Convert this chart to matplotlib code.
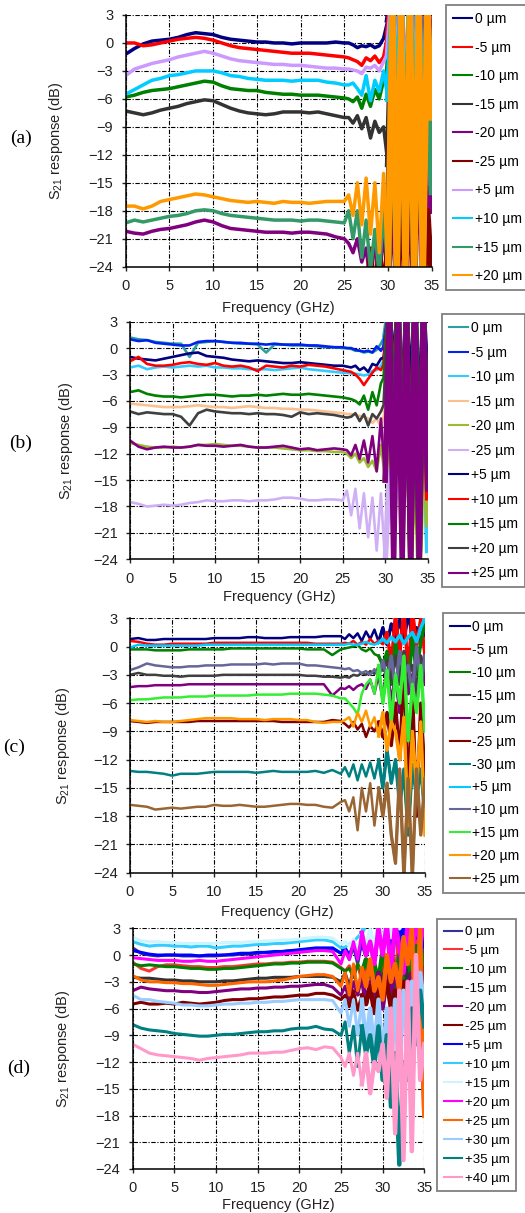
# %%
import matplotlib
matplotlib.use("Agg")
import matplotlib.pyplot as plt
import numpy as np

plt.rcParams["font.family"] = ["Liberation Sans", "DejaVu Sans"]
plt.rcParams["mathtext.default"] = "regular"

# frequency grid of the read-off samples (GHz): 1 GHz steps, then 0.5 GHz in the noisy tail
freq = np.concatenate([np.arange(0, 26, 1.0), np.arange(25.5, 35.01, 0.5)])

# %% panel (a) data, S21 in dB
a_0 = [-1.2, -0.6, -0.1, 0.2, 0.3, 0.4, 0.6, 0.9, 1.1, 1.0, 0.9, 0.6, 0.4, 0.3, 0.2, 0.1, 0.1, 0.0, 0.0, -0.1, 0.0, 0.0, 0.0, 0.0, 0.1, 0.0,
       0.0, -0.2, -0.5, -0.3, -0.4, -0.2, -0.5, -0.3, 0.5, 2.5, 6, -12, 6, -20, 5, -8, 6, -15, 5, -5]
a_m5 = [0.0, 0.0, -0.3, -0.2, 0.0, 0.2, 0.4, 0.5, 0.6, 0.5, 0.3, 0.0, -0.3, -0.5, -0.6, -0.7, -0.8, -0.9, -1.0, -1.1, -1.1, -1.1, -1.2, -1.3, -1.4, -1.5,
        -1.6, -1.8, -2.0, -2.4, -1.6, -1.9, -1.4, -2.1, -1.5, 1.0, 6, -10, 5, -18, 6, -22, 5, -12, 6, -8]
a_m10 = [-5.8, -5.6, -5.3, -5.1, -5.0, -4.9, -4.7, -4.5, -4.3, -4.1, -4.2, -4.6, -4.9, -5.0, -5.1, -5.1, -5.3, -5.4, -5.5, -5.5, -5.6, -5.6, -5.6, -5.7, -5.8, -5.9,
         -6.0, -6.3, -5.8, -7.0, -5.5, -6.8, -5.0, -6.0, -4.0, -3.0, 5, -14, 6, -24, 5, -20, 6, -16, 4, -10]
a_m15 = [-7.3, -7.5, -7.7, -7.5, -7.2, -7.0, -6.8, -6.5, -6.3, -6.1, -6.2, -6.6, -7.0, -7.3, -7.5, -7.6, -7.7, -7.6, -7.4, -7.4, -7.4, -7.5, -7.4, -7.6, -7.8, -8.0,
         -8.0, -8.6, -7.8, -9.2, -8.0, -10.2, -8.4, -9.6, -9.0, -13.0, 5, -25, 6, -18, 5, -26, 6, -20, 5, -12]
a_m20 = [-20.2, -20.4, -20.5, -20.2, -20.0, -19.9, -19.7, -19.5, -19.2, -19.0, -19.2, -19.6, -19.9, -20.0, -20.1, -20.2, -20.3, -20.3, -20.3, -20.4, -20.3, -20.3, -20.4, -20.5, -20.8, -21.0,
         -21.5, -22.5, -21.0, -23.5, -22.0, -26, -21, -26, -20, -26, -14, -26, -12, -24, -13, -26, -10, -23, -12, -18]
a_m25 = [-26] * 26 + [-26, -26, -26, -26, -26, -22, -26, -21, -26, -20, 4, -26, -16, -26, -14, -26, 5, -26, -18, -26]
a_p5 = [-3.5, -2.8, -2.5, -2.2, -2.0, -1.8, -1.5, -1.3, -1.1, -0.9, -1.1, -1.4, -1.7, -1.9, -2.0, -2.1, -2.2, -2.3, -2.3, -2.4, -2.4, -2.5, -2.6, -2.7, -2.7, -2.8,
        -2.8, -2.9, -3.0, -3.3, -2.6, -2.7, -2.4, -3.0, -2.0, -1.0, 5, -8, 6, -14, 5, -10, 6, -22, 5, -15]
a_p10 = [-5.5, -5.0, -4.5, -4.0, -3.8, -3.5, -3.4, -3.2, -3.0, -3.0, -3.0, -3.2, -3.5, -3.6, -3.8, -3.9, -4.0, -4.0, -4.0, -4.1, -4.0, -4.0, -4.0, -4.2, -4.3, -4.5,
         -4.5, -4.3, -4.9, -5.6, -3.5, -6.2, -4.0, -5.2, -3.0, -6.0, 4, -10, 5, -16, 4, -12, 5, -20, 3, -14]
a_p15 = [-19.3, -19.0, -19.2, -19.0, -18.8, -18.6, -18.5, -18.3, -18.0, -17.9, -18.0, -18.3, -18.5, -18.6, -18.7, -18.8, -18.9, -19.0, -19.0, -19.0, -19.1, -19.0, -19.0, -19.1, -19.2, -19.3,
         -18.0, -21.0, -18.0, -23.0, -19.0, -24.5, -20.0, -25.0, -18.0, -25, 3, -25, 4, -22, 3, -25, 2, -20, 3, -16]
a_p20 = [-17.5, -17.5, -17.8, -17.5, -17.0, -16.8, -16.6, -16.4, -16.2, -16.3, -16.5, -16.7, -16.9, -17.0, -17.1, -17.0, -17.1, -17.2, -17.0, -17.1, -17.1, -17.2, -17.1, -17.0, -17.0, -17.0,
         -16.3, -18.5, -15.0, -19.5, -14.5, -20.5, -15.0, -22.5, -14.0, -25.0, 4, -25, 4, -25, 4, -25, 4, -25, 4, -8]
curves_a = [a_0, a_m5, a_m10, a_m15, a_m20, a_m25, a_p5, a_p10, a_p15, a_p20]
labels_a = ["0 µm", "-5 µm", "-10 µm", "-15 µm", "-20 µm", "-25 µm", "+5 µm", "+10 µm", "+15 µm", "+20 µm"]
colors_a = ["#000080", "#FF0000", "#008000", "#333333", "#800080", "#800000", "#CC99FF", "#00CCFF", "#339966", "#FF9900"]

# %% panel (b) data
b_0 = [1.2, 1.0, 0.9, 0.7, 0.6, 0.5, 0.5, -1.0, 0.6, 0.7, 0.8, 0.7, 0.6, 0.5, 0.5, 0.4, -0.5, 0.4, 0.4, 0.3, 0.3, 0.3, 0.2, 0.1, 0.1, 0.0,
       0.0, -0.1, -0.3, -0.3, -0.5, -0.4, -0.5, -0.2, 0.5, 1.5, 5, -10, 5, -16, 4, -20, 5, -18, 4, -22]
b_m5 = [1.0, 0.8, 0.9, 0.6, 0.5, 0.4, 0.3, 0.3, 0.7, 0.8, 0.8, 0.7, 0.6, 0.6, 0.5, 0.5, 0.4, 0.5, 0.4, 0.4, 0.4, 0.3, 0.3, 0.2, 0.1, 0.1,
        0.0, 0.0, -0.2, -0.3, -0.4, -0.3, -0.5, 0.2, -0.3, 0.5, 4, -6, 5, -12, 4, -18, 5, -14, 4, -10]
b_m10 = [-2.2, -2.0, -2.4, -2.2, -2.1, -2.2, -2.1, -2.0, -2.1, -2.0, -2.2, -2.2, -2.3, -2.3, -2.4, -2.4, -2.4, -2.5, -2.4, -2.3, -2.2, -2.4, -2.5, -2.6, -2.7, -2.8,
         -2.8, -2.9, -2.9, -3.0, -3.1, -3.0, -2.6, -2.5, -2.0, -1.0, 4, -8, 5, -12, 4, -16, 5, -20, 4, -23]
b_m15 = [-6.3, -6.4, -6.5, -6.6, -6.7, -6.7, -6.7, -6.6, -6.5, -6.6, -6.7, -6.7, -6.8, -6.7, -6.6, -6.7, -6.8, -6.8, -6.9, -6.9, -7.0, -7.0, -7.1, -7.2, -7.3, -7.4,
         -7.5, -7.5, -7.6, -7.7, -7.8, -8.0, -8.5, -8.0, -9.0, -7.0, 3, -10, 4, -14, 3, -18, 4, -15, 3, -12]
b_m20 = [-10.8, -11.0, -11.2, -11.3, -11.3, -11.2, -11.3, -11.2, -11.0, -11.0, -10.9, -11.0, -11.1, -11.1, -11.2, -11.3, -11.3, -11.3, -11.4, -11.5, -11.6, -11.6, -11.7, -11.7, -11.8, -11.8,
         -12.0, -12.5, -12.0, -13.0, -12.5, -13.5, -12.8, -14.0, -11.0, -15.0, -6, -18, -4, -22, -2, -24, -10, -26, -8, -20]
b_m25 = [-17.5, -17.7, -18.0, -17.9, -17.8, -17.9, -17.8, -17.6, -17.5, -17.3, -17.4, -17.4, -17.3, -17.3, -17.4, -17.3, -17.3, -17.2, -17.0, -17.0, -17.1, -17.3, -17.3, -17.2, -17.2, -17.3,
         -16.2, -19.0, -16.0, -20.5, -16.5, -21.5, -17.0, -23.0, -16.5, -24.5, -14, -20, -12, -18, -8, -14, -6, -10, -4, -8]
b_p5 = [-1.0, -1.2, -1.3, -1.4, -1.2, -1.0, -0.8, -0.6, -0.5, -0.9, -1.0, -1.1, -1.3, -1.4, -1.5, -1.4, -1.5, -1.6, -1.7, -1.7, -1.6, -1.7, -1.8, -1.9, -2.0, -2.0,
        -2.1, -2.2, -2.0, -2.5, -2.2, -2.7, -1.8, -2.0, -1.2, -1.0, 4, -5, 5, -10, 4, -8, 5, -12, 4, -6]
b_p10 = [-1.5, -1.0, -1.8, -2.0, -2.0, -1.9, -1.7, -1.6, -1.8, -1.9, -1.7, -2.0, -2.1, -2.0, -2.2, -2.6, -2.0, -2.1, -2.2, -2.0, -2.1, -1.9, -2.0, -2.1, -2.3, -2.5,
         -2.6, -2.7, -3.0, -3.5, -4.2, -3.5, -2.8, -2.2, -2.5, -1.5, 4, -8, 5, -14, 4, -21, 5, -24, 4, -17]
b_p15 = [-5.0, -4.8, -5.2, -5.4, -5.5, -5.5, -5.6, -5.5, -5.4, -5.3, -5.3, -5.4, -5.5, -5.4, -5.4, -5.3, -5.4, -5.3, -5.2, -5.3, -5.3, -5.2, -5.3, -5.4, -5.5, -5.6,
         -5.7, -5.8, -6.0, -6.4, -5.4, -7.0, -5.0, -6.5, -4.0, -3.0, 4, -10, 5, -16, 4, -22, 5, -24, 4, -15]
b_p20 = [-7.2, -7.5, -7.3, -7.4, -7.5, -7.5, -7.8, -8.8, -7.4, -7.0, -7.2, -7.3, -7.4, -7.4, -7.5, -7.4, -7.5, -7.5, -7.6, -7.8, -7.3, -7.5, -7.4, -7.5, -7.6, -7.8,
         -7.9, -7.8, -7.4, -8.3, -7.5, -8.8, -7.5, -8.0, -7.2, -6.0, 4, -12, 5, -18, 4, -24, 5, -20, 4, -14]
b_p25 = [-10.5, -11.2, -11.5, -11.3, -11.2, -11.3, -11.3, -11.2, -11.0, -11.1, -11.1, -11.2, -11.1, -11.0, -11.2, -11.3, -11.3, -11.2, -11.1, -11.3, -11.5, -11.4, -11.6, -11.5, -11.4, -11.5,
         -11.6, -12.2, -11.0, -12.6, -10.5, -13.0, -10.0, -14.0, -8.0, -15.0, 4, -24, 4, -24, 4, -24, 4, -24, 4, -16]
curves_b = [b_0, b_m5, b_m10, b_m15, b_m20, b_m25, b_p5, b_p10, b_p15, b_p20, b_p25]
labels_b = ["0 µm", "-5 µm", "-10 µm", "-15 µm", "-20 µm", "-25 µm", "+5 µm", "+10 µm", "+15 µm", "+20 µm", "+25 µm"]
colors_b = ["#2E9E9E", "#0022EE", "#33CCFF", "#FAC090", "#9BBB33", "#D0B0F5", "#000080", "#FF0000", "#008000", "#404040", "#800080"]

# %% panel (c) data
c_0 = [0.8, 0.9, 0.7, 0.7, 0.8, 0.8, 0.8, 0.8, 0.8, 0.8, 0.9, 0.9, 0.9, 0.9, 1.0, 1.0, 0.9, 0.9, 0.9, 1.0, 1.0, 1.0, 1.0, 1.1, 1.1, 1.1,
       0.8, 1.3, 0.9, 1.4, 0.6, 1.6, 0.8, 1.8, 0.5, 2.0, 0.2, 2.4, 1.0, 2.8, 0.5, 3.5, 1.0, 2.0, 0.5, 1.5]
c_m5 = [0.6, 0.5, 0.3, 0.2, 0.2, 0.3, 0.3, 0.3, 0.3, 0.3, 0.4, 0.4, 0.4, 0.4, 0.4, 0.4, 0.4, 0.4, 0.4, 0.4, 0.4, 0.4, 0.3, 0.3, 0.3, 0.3,
        0.4, 0.3, 0.6, 0.2, 0.5, 0.2, 0.8, 0.3, 0.6, 0.3, 1.5, -2.0, 3.5, -1.0, 4.0, -3.0, 4.0, 0.0, 3.0, -1.0]
c_m10 = [-0.3, -0.3, -0.3, -0.4, -0.4, -0.4, -0.4, -0.3, -0.3, -0.3, -0.3, -0.3, -0.2, -0.2, -0.2, -0.2, -0.2, -0.2, -0.2, -0.2, -0.2, -0.3, -0.3, -0.3, -0.9, -0.3,
         -0.2, -0.1, 0.0, 0.2, -0.3, -0.5, -0.2, -0.8, -1.0, -2.0, -0.5, -4.0, 0.5, -3.0, -1.0, -5.0, 1.0, -3.0, 0.5, 2.5]
c_m15 = [-3.0, -2.8, -3.0, -3.0, -3.1, -3.1, -3.2, -3.1, -3.1, -3.1, -3.1, -3.0, -3.0, -3.0, -3.0, -3.0, -3.0, -3.0, -3.0, -3.0, -3.0, -3.1, -3.1, -3.2, -3.2, -3.3,
         -3.2, -3.3, -3.0, -3.1, -2.8, -3.0, -2.6, -2.9, -2.2, -2.5, -1.5, -3.5, -1.0, -4.0, -0.5, -3.0, -2.0, -4.5, -1.0, -3.0]
c_m20 = [-4.3, -4.2, -4.2, -4.1, -4.1, -4.1, -4.1, -4.0, -4.0, -4.0, -4.0, -4.0, -4.0, -4.0, -4.0, -4.0, -4.0, -4.0, -4.0, -4.0, -4.0, -4.0, -4.0, -4.0, -5.2, -4.4,
         -4.5, -4.2, -4.6, -4.2, -4.0, -4.5, -3.5, -5.0, -3.0, -5.5, -2.5, -6.0, -3.0, -7.0, -2.0, -5.0, -3.0, -6.0, -2.0, -4.0]
c_m25 = [-7.9, -8.0, -8.1, -8.0, -8.0, -8.0, -8.0, -8.0, -7.9, -7.9, -7.9, -7.9, -7.9, -7.9, -7.9, -7.9, -7.9, -7.9, -8.0, -8.0, -8.0, -8.0, -8.0, -8.0, -7.8, -7.9,
         -8.2, -8.6, -8.0, -8.8, -8.2, -9.6, -8.4, -9.0, -8.0, -9.6, -7.0, -10.5, -6.0, -12.0, -2.0, -16.0, -4.0, -18.0, -6.0, -14.0]
c_m30 = [-13.2, -13.3, -13.3, -13.4, -13.5, -13.7, -13.5, -13.5, -13.5, -13.4, -13.3, -13.3, -13.3, -13.3, -13.3, -13.4, -13.3, -13.2, -13.3, -13.3, -13.3, -13.3, -13.2, -13.4, -13.1, -13.5,
         -12.8, -13.8, -12.5, -14.2, -12.5, -13.8, -12.3, -14.0, -12.0, -15.0, -11.0, -14.5, -12.0, -17.0, -13.0, -20.0, -12.5, -16.0, -13.0, -18.0]
c_p5 = [-0.1, 0.2, 0.1, 0.1, 0.1, 0.1, 0.1, 0.1, 0.1, 0.2, 0.2, 0.2, 0.2, 0.2, 0.2, 0.2, 0.2, 0.2, 0.2, 0.2, 0.2, 0.2, 0.2, 0.2, 0.2, 0.2,
        0.2, 0.3, 0.2, 0.2, 0.3, 0.5, 0.3, 0.2, 0.4, 0.8, 0.4, 1.0, 0.5, 1.2, 0.3, 1.0, 1.5, 0.5, 2.0, 3.0]
c_p10 = [-2.5, -2.2, -1.8, -2.0, -2.1, -2.2, -2.2, -2.1, -2.1, -2.0, -2.0, -2.0, -1.9, -1.9, -1.9, -1.9, -1.8, -1.9, -1.8, -1.8, -1.8, -2.0, -2.0, -2.1, -2.2, -2.3,
         -2.4, -2.3, -2.6, -2.5, -2.8, -2.6, -3.0, -2.4, -3.2, -1.5, -3.5, -1.0, -4.5, -0.5, -3.0, -2.0, -5.0, 0.0, -4.0, -1.0]
c_p15 = [-5.7, -5.6, -5.6, -5.5, -5.4, -5.4, -5.4, -5.3, -5.3, -5.3, -5.2, -5.2, -5.2, -5.2, -5.2, -5.1, -5.1, -5.1, -5.1, -5.0, -5.0, -5.0, -5.0, -5.1, -5.2, -5.5,
         -5.5, -6.0, -6.5, -7.2, -5.0, -4.0, -3.5, -5.0, -2.0, -6.0, -2.5, -8.0, -3.0, -6.0, -1.0, -10.0, -4.0, -7.0, -2.0, -9.0]
c_p20 = [-7.8, -7.9, -8.0, -7.9, -8.0, -8.0, -7.9, -7.8, -7.7, -7.6, -7.6, -7.6, -7.6, -7.7, -7.7, -7.7, -7.8, -7.7, -7.7, -7.7, -7.8, -7.8, -8.0, -8.1, -8.0, -8.0,
         -7.8, -7.5, -8.5, -7.0, -8.0, -6.8, -8.5, -7.5, -9.5, -7.0, -11.0, -8.0, -9.0, -12.0, -7.5, -19.0, -9.0, -15.0, -8.0, -20.0]
c_p25 = [-16.8, -16.9, -17.0, -17.3, -17.2, -17.1, -17.2, -17.1, -17.0, -17.0, -16.8, -16.9, -16.9, -16.8, -16.9, -17.0, -17.0, -16.9, -16.8, -16.7, -16.7, -16.8, -16.8, -17.0, -17.1, -16.5,
         -16.3, -17.5, -16.0, -19.5, -15.0, -17.5, -14.5, -19.0, -15.0, -18.0, -14.5, -20.0, -23.0, -13.0, -24.5, -14.0, -24.5, -13.0, -20.0, -14.0]
curves_c = [c_0, c_m5, c_m10, c_m15, c_m20, c_m25, c_m30, c_p5, c_p10, c_p15, c_p20, c_p25]
labels_c = ["0 µm", "-5 µm", "-10 µm", "-15 µm", "-20 µm", "-25 µm", "-30 µm", "+5 µm", "+10 µm", "+15 µm", "+20 µm", "+25 µm"]
colors_c = ["#000080", "#FF0000", "#008000", "#404040", "#800080", "#800000", "#008080", "#00CCFF", "#666699", "#33EE33", "#FF9900", "#996633"]

# %% panel (d) data
d_0 = [0.8, 0.2, 0.0, -0.1, 0.0, 0.0, -0.1, -0.1, -0.1, -0.1, -0.1, 0.0, 0.0, 0.1, 0.1, 0.2, 0.3, 0.3, 0.4, 0.5, 0.5, 0.6, 0.7, 0.7, 0.7, 0.2,
       0.5, -0.5, 1.0, -1.0, 1.5, 0.0, 2.0, -0.5, 3.0, 0.5, 4.0, 1.0, 4.0, -1.0, 4.0, 0.0, 4.0, -2.0, 4.0, 0.0]
d_m5 = [-0.8, -1.5, -1.8, -1.3, -1.1, -1.1, -1.2, -1.3, -1.3, -1.4, -1.4, -1.3, -1.3, -1.2, -1.1, -1.0, -1.0, -0.9, -0.9, -0.8, -0.8, -0.7, -0.7, -0.7, -0.8, -1.4,
        -1.8, -1.2, -2.5, -1.0, -3.0, -0.5, -2.0, -1.5, -3.5, 0.0, -2.0, 1.0, -3.0, 2.0, -4.0, 3.0, -5.0, 4.0, -3.0, -18.0]
d_m10 = [-1.0, -1.2, -1.1, -1.2, -1.3, -1.3, -1.4, -1.5, -1.5, -1.6, -1.6, -1.5, -1.5, -1.4, -1.3, -1.2, -1.1, -1.0, -1.0, -0.9, -0.9, -0.8, -0.8, -0.8, -0.9, -1.5,
         -1.8, -1.5, -2.5, -1.0, -2.0, -0.5, -2.5, -1.0, -3.0, 0.5, -2.0, 1.5, -4.0, 0.0, -3.0, 2.0, -5.0, 1.0, -2.0, 0.0]
d_m15 = [-2.5, -2.6, -2.6, -2.7, -2.8, -2.8, -2.9, -2.9, -3.0, -3.0, -3.0, -2.9, -2.9, -2.8, -2.7, -2.6, -2.6, -2.5, -2.5, -2.5, -2.4, -2.4, -2.4, -2.4, -2.5, -3.0,
         -2.0, -3.5, -1.5, -4.0, -2.0, -3.0, -1.0, -4.5, -2.0, -3.0, -0.5, -5.0, -1.0, -4.0, 0.0, -3.0, -2.0, -6.0, -1.0, -2.0]
d_m20 = [-4.0, -3.6, -3.8, -3.9, -4.0, -4.0, -4.1, -4.1, -4.2, -4.2, -4.1, -4.0, -3.9, -3.8, -3.8, -3.7, -3.7, -3.6, -3.6, -3.5, -3.5, -3.4, -3.3, -3.3, -3.6, -4.5,
         -3.5, -5.0, -3.0, -4.5, -2.5, -5.5, -3.0, -5.0, -2.0, -6.0, -2.5, -4.0, -1.5, -5.0, -3.0, -4.0, -2.0, -6.0, -1.0, -3.0]
d_m25 = [-5.5, -5.3, -5.5, -5.5, -5.4, -5.5, -5.3, -5.4, -5.5, -5.4, -5.3, -5.1, -5.0, -5.0, -4.9, -4.9, -4.8, -4.7, -4.7, -4.6, -4.5, -4.5, -4.3, -4.3, -4.5, -5.0,
         -4.5, -5.8, -4.0, -6.2, -4.5, -5.5, -3.5, -6.5, -4.0, -5.0, -3.0, -6.0, -4.0, -7.0, -3.0, -5.0, -4.0, -6.0, -3.5, -5.0]
d_p5 = [0.5, 0.3, 0.1, 0.0, 0.0, 0.0, 0.0, 0.0, -0.1, 0.0, 0.0, 0.0, 0.1, 0.2, 0.2, 0.3, 0.3, 0.4, 0.4, 0.5, 0.6, 0.7, 0.8, 0.8, 0.8, 0.2,
        0.8, 0.0, 1.2, -0.5, 1.8, 0.5, 2.5, 0.0, 3.0, 1.0, 4.0, 0.5, 4.0, 1.5, 4.0, 0.0, 4.0, 2.0, 4.0, 1.0]
d_p10 = [1.5, 1.2, 1.0, 1.1, 1.1, 1.0, 1.0, 0.9, 1.0, 1.0, 0.8, 0.9, 1.0, 1.0, 1.1, 1.2, 1.2, 1.3, 1.3, 1.4, 1.5, 1.6, 1.7, 1.7, 1.5, 0.8,
         0.9, 1.2, 1.5, 2.0, 2.5, 3.5, 4, 4, 4, 4, 4, 4, 4, 4, 4, 4, 4, 4, 4, 4]
d_p15 = [2.0, 1.6, 1.5, 1.5, 1.4, 1.4, 1.3, 1.3, 1.3, 1.3, 1.3, 1.4, 1.4, 1.4, 1.5, 1.5, 1.6, 1.6, 1.7, 1.7, 1.8, 1.9, 2.0, 2.0, 1.9, 1.2,
         1.5, 1.0, 1.8, 0.8, 2.2, 1.0, 2.8, 0.5, 3.5, 1.0, 4, 2, 4, 3, 4, 4, 4, 4, 4, 4]
d_p20 = [-0.3, -0.4, -0.5, -0.6, -0.6, -0.6, -0.7, -0.7, -0.6, -0.7, -0.7, -0.6, -0.5, -0.4, -0.3, -0.2, -0.1, 0.0, 0.1, 0.2, 0.3, 0.4, 0.5, 0.5, 0.4, -1.0,
         0.5, -0.5, 1.5, -0.5, 2.5, 0.0, 1.5, -1.0, 3.0, 0.0, 3.5, -2.0, 3.5, 1.0, -2.0, 3.5, 0.0, 4.0, 1.0, 4.0]
d_p25 = [-2.3, -2.8, -3.0, -3.0, -3.1, -3.1, -3.2, -3.2, -3.3, -3.4, -3.4, -3.3, -3.2, -3.1, -3.0, -3.0, -3.0, -2.9, -2.8, -2.6, -2.4, -2.3, -2.2, -2.2, -2.4, -3.5,
         -2.0, -4.5, -1.0, -4.0, -1.5, -3.5, -0.5, -4.0, -2.5, -5.0, 0.0, -3.0, -1.0, -4.0, 2.0, -1.0, 3.0, -10.0, 3.0, -18.0]
d_p30 = [-4.5, -5.0, -5.0, -5.2, -5.3, -5.4, -5.6, -5.6, -5.7, -5.7, -5.6, -5.5, -5.5, -5.4, -5.4, -5.3, -5.3, -5.2, -5.2, -5.1, -5.0, -5.0, -5.0, -5.0, -5.1, -6.5,
         -5.0, -8.0, -5.0, -9.0, -5.0, -10.0, -6.0, -11.0, -5.0, -12.0, -6.0, -13.0, -5.0, -14.0, -4.0, -10.0, -3.0, -8.0, -2.0, -6.0]
d_p35 = [-7.8, -8.2, -8.4, -8.5, -8.6, -8.8, -8.9, -9.0, -9.1, -9.1, -9.0, -8.9, -8.9, -8.8, -8.7, -8.6, -8.6, -8.5, -8.5, -8.3, -8.2, -8.2, -8.0, -8.3, -8.4, -9.0,
         -7.5, -11.0, -8.0, -12.5, -8.0, -11.0, -9.0, -12.5, -8.0, -14.0, -9.0, -17.0, -11.0, -23.5, -12.0, -14.0, -6.0, -10.0, -4.0, -8.0]
d_p40 = [-10.0, -10.5, -11.0, -11.2, -11.3, -11.4, -11.5, -11.6, -11.8, -11.6, -11.5, -11.4, -11.3, -11.2, -11.0, -11.0, -11.0, -10.9, -10.9, -10.7, -10.5, -10.4, -10.6, -10.3, -10.4, -11.5,
         -12.5, -11.0, -13.5, -11.0, -14.5, -11.0, -15.5, -12.0, -13.0, -10.0, -16.0, -6.0, -20.0, -4.0, -23.0, -3.0, -22.0, 0.0, -14.0, -10.0]
curves_d = [d_0, d_m5, d_m10, d_m15, d_m20, d_m25, d_p5, d_p10, d_p15, d_p20, d_p25, d_p30, d_p35, d_p40]
labels_d = ["0 µm", "-5 µm", "-10 µm", "-15 µm", "-20 µm", "-25 µm", "+5 µm", "+10 µm", "+15 µm", "+20 µm",
            "+25 µm", "+30 µm", "+35 µm", "+40 µm"]
colors_d = ["#333399", "#FF3333", "#008000", "#333333", "#800080", "#800000", "#0000FF", "#33CCFF", "#CCF5FF", "#FF00FF",
            "#FF6600", "#99CCFF", "#008080", "#FF99CC"]

yticks = [3, 0, -3, -6, -9, -12, -15, -18, -21, -24]
xticks = [0, 5, 10, 15, 20, 25, 30, 35]

# %% figure
W, H = 525, 1213
fig = plt.figure(figsize=(W / 100, H / 100), dpi=100)


def px_axes(x0, x1, y0, y1):
    return fig.add_axes([x0 / W, 1 - y1 / H, (x1 - x0) / W, (y1 - y0) / H])


def draw_panel(ax, curves, labels, colors, lw, tail_from, tail_lw,
               leg_xy, leg_spacing, leg_fs, ylab_x, xlab_y, tag, tag_xy):
    tail = freq >= tail_from
    for y, lab, col in zip(curves, labels, colors):
        ax.plot(freq, y, color=col, lw=lw, label=lab)
        # the noisy region at high frequency is drawn heavier, as in the measured traces
        ax.plot(freq[tail], np.asarray(y)[tail], color=col, lw=tail_lw)
    ax.set_xlim(0, 35)
    ax.set_ylim(-24, 3)
    ax.set_xticks(xticks)
    ax.set_yticks(yticks)
    ax.grid(True, color="black", lw=0.8, linestyle=(0, (4, 1.5, 1, 1.5)))
    ax.set_axisbelow(True)
    for s in ["top", "right"]:
        ax.spines[s].set_visible(False)
    for s in ["left", "bottom"]:
        ax.spines[s].set_linewidth(1.1)
    ax.tick_params(labelsize=10.5, length=3, width=1, pad=6, colors="#222222")
    ax.set_ylabel("S$_{21}$ response (dB)", fontsize=10.5, color="#222222")
    ax.set_xlabel("Frequency (GHz)", fontsize=10.5, color="#222222")
    ax.yaxis.set_label_coords(ylab_x, 0.5)
    ax.xaxis.set_label_coords(0.5, xlab_y)
    leg = ax.legend(loc="upper left", bbox_to_anchor=(leg_xy[0] / W, 1 - leg_xy[1] / H),
                    bbox_transform=fig.transFigure, fancybox=False, edgecolor="#808080",
                    fontsize=leg_fs, labelspacing=leg_spacing, handlelength=1.4,
                    handletextpad=0.2, borderpad=0.5, borderaxespad=0, framealpha=1)
    leg.get_frame().set_linewidth(1.3)
    for h in leg.get_lines():
        h.set_linewidth(1.5)
    fig.text(tag_xy[0] / W, 1 - tag_xy[1] / H, tag, fontsize=14, family="Liberation Serif",
             ha="center", va="center")


ax_a = px_axes(125.7, 431.7, 15, 266.7)
draw_panel(ax_a, curves_a, labels_a, colors_a, 2.5, 30, 4.5,
           (446, 5), 1.05, 10, -0.198, -0.136, "(a)", (21, 138))

ax_b = px_axes(130, 427.7, 321.7, 559.3)
draw_panel(ax_b, curves_b, labels_b, colors_b, 1.9, 30, 4.0,
           (441.7, 314), 0.76, 10, -0.185, -0.13, "(b)", (21, 443))

ax_c = px_axes(130, 425, 618.3, 872.7)
draw_panel(ax_c, curves_c, labels_c, colors_c, 1.8, 29.5, 2.4,
           (443.3, 613.3), 0.64, 10, -0.197, -0.126, "(c)", (14, 747))

ax_d = px_axes(132.7, 424.3, 928.3, 1169)
draw_panel(ax_d, curves_d, labels_d, colors_d, 2.2, 27.5, 3.2,
           (437.3, 919.3), 0.51, 9.5, -0.208, -0.12, "(d)", (19, 1068))

fig.savefig("out.png", dpi=100)
